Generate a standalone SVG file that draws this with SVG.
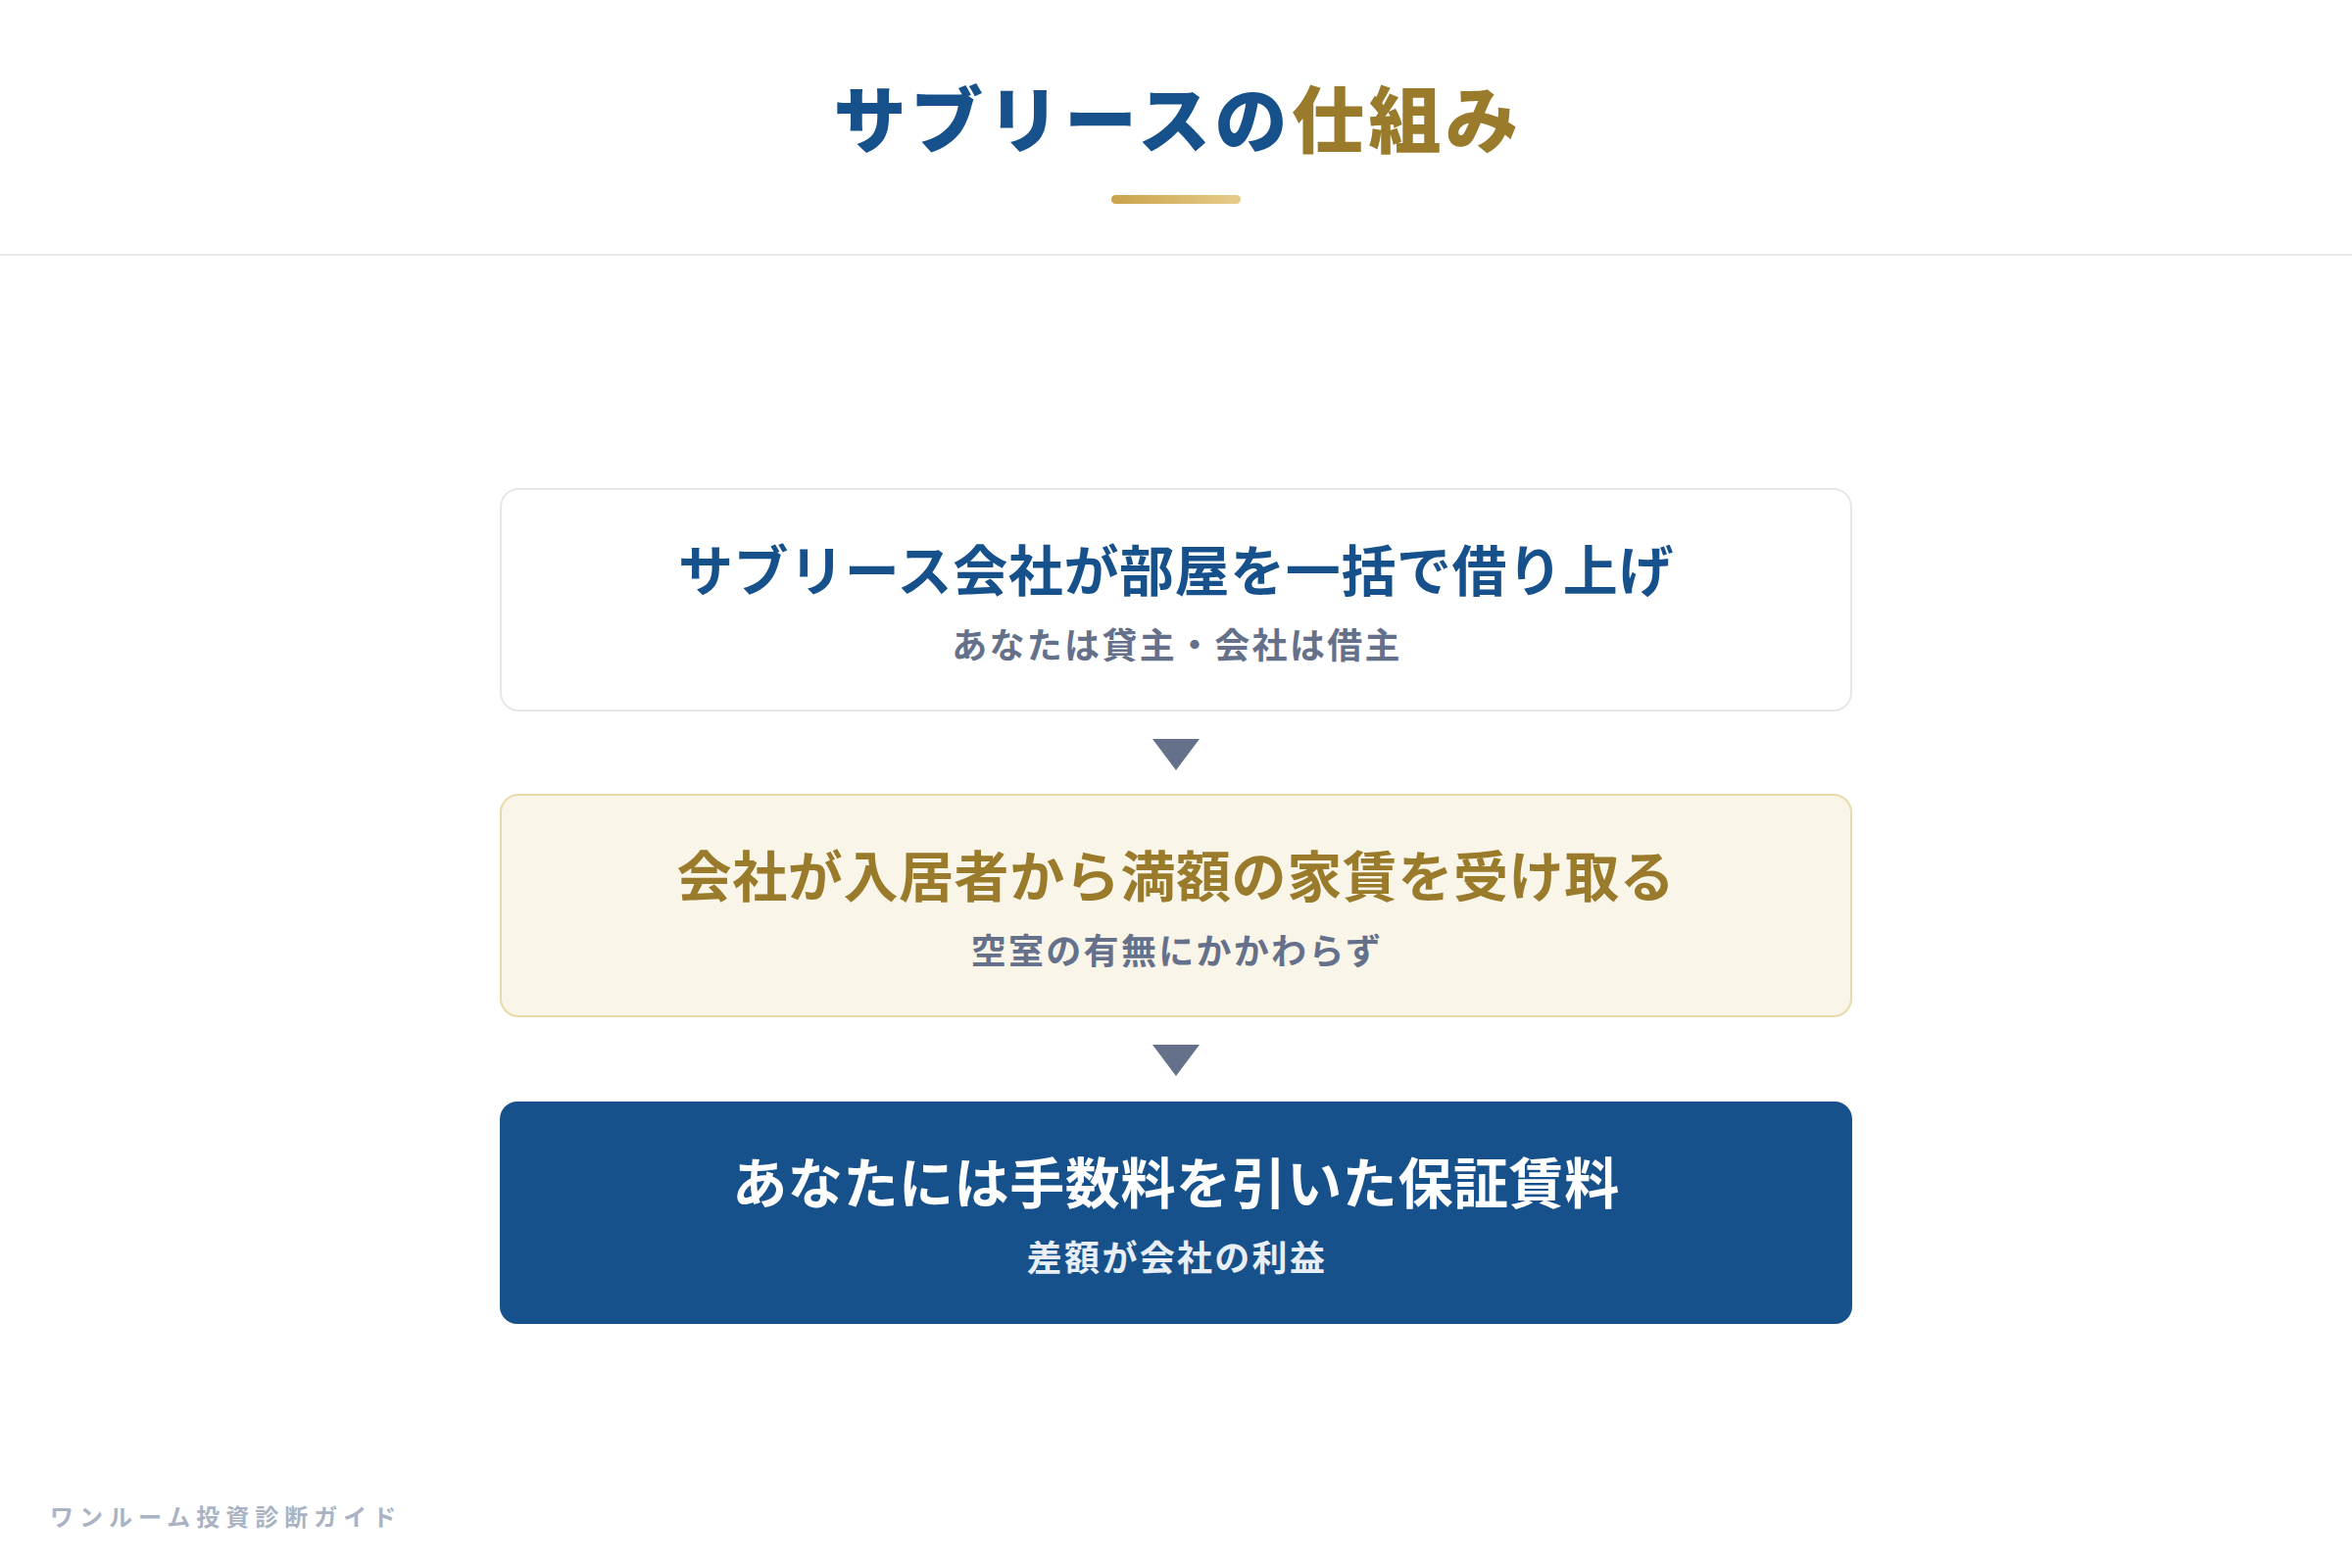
<svg xmlns="http://www.w3.org/2000/svg" width="2400" height="1600" viewBox="0 0 2400 1600">
<defs>
<linearGradient id="goldbar" x1="0" y1="0" x2="1" y2="0">
<stop offset="0" stop-color="#c9a248"/>
<stop offset="1" stop-color="#e6cc8c"/>
</linearGradient>
<style>
text{font-family:"Noto Sans CJK JP","Noto Sans",sans-serif;text-anchor:middle}
.title{font-size:74px;font-weight:900;letter-spacing:4.5px}
.main{font-size:56px;font-weight:700;letter-spacing:0.6px}
.sub{font-size:36px;font-weight:700;letter-spacing:2.3px}
.arrow{fill:#65718a}
</style>
</defs>
<rect width="2400" height="1600" fill="#ffffff"/>
<g id="header">
<text class="title" x="1202" y="150"><tspan fill="#17518c">サブリースの</tspan><tspan fill="#9a7b2c">仕組み</tspan></text>
<rect x="1134" y="199" width="132" height="9" rx="4.5" fill="url(#goldbar)"/>
<rect x="0" y="259" width="2400" height="2" fill="#e8eaee"/>
</g>
<g id="step1">
<rect x="511" y="499" width="1378" height="226" rx="18" fill="#ffffff" stroke="#e5e7eb" stroke-width="2"/>
<text class="main" x="1200" y="603" fill="#17518c">サブリース会社が部屋を一括で借り上げ</text>
<text class="sub" x="1201" y="672" fill="#65718a">あなたは貸主・会社は借主</text>
</g>
<g id="step2">
<rect x="511" y="811" width="1378" height="226" rx="18" fill="#faf5e9" stroke="#e8d8aa" stroke-width="2"/>
<text class="main" x="1200" y="915" fill="#9a7b2c">会社が入居者から満額の家賃を受け取る</text>
<text class="sub" x="1201" y="984" fill="#65718a">空室の有無にかかわらず</text>
</g>
<g id="step3">
<rect x="510" y="1124" width="1380" height="227" rx="18" fill="#17518c"/>
<text class="main" x="1200" y="1228" fill="#ffffff">あなたには手数料を引いた保証賃料</text>
<text class="sub" x="1201" y="1297" fill="#e8eef6">差額が会社の利益</text>
</g>
<g id="connectors">
<polygon class="arrow" points="1176,754 1224,754 1200,786"/>
<polygon class="arrow" points="1176,1066 1224,1066 1200,1098"/>
</g>
<g id="footer">
<text x="51" y="1557" style="text-anchor:start;font-size:24px;font-weight:700;letter-spacing:6px" fill="#aab3c3">ワンルーム投資診断ガイド</text>
</g>
</svg>
